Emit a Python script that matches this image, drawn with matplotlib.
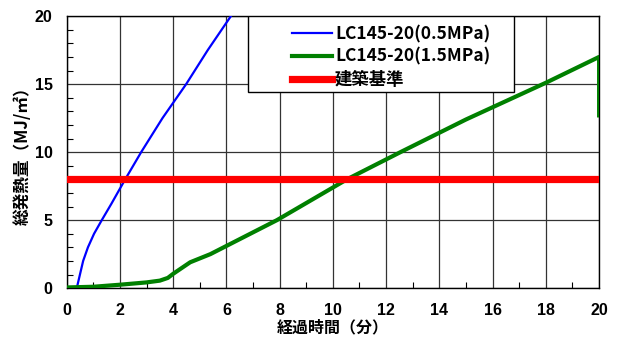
import matplotlib
matplotlib.use('Agg')
import matplotlib.pyplot as plt
from matplotlib.patches import Rectangle
from matplotlib.ticker import MultipleLocator

plt.rcParams['font.family'] = ['Noto Sans CJK JP', 'DejaVu Sans']

# 0.5MPa curve
blue_t = [0.0, 0.38, 0.5, 0.62, 0.8, 1.03, 1.32, 1.68, 2.2, 2.8, 3.6, 4.49, 5.3, 6.17, 6.3]
blue_q = [0.0, 0.0, 1.0, 2.0, 3.0, 4.0, 5.0, 6.2, 8.0, 10.0, 12.5, 15.0, 17.5, 20.0, 20.4]

# 1.5MPa curve
green_t = [0, 1, 2, 3, 3.5, 3.8, 4.0, 4.64, 5.4, 6, 7.9, 10.53, 12.54, 15, 18, 20, 20]
green_q = [0.05, 0.1, 0.25, 0.42, 0.55, 0.75, 1.05, 1.9, 2.5, 3.1, 5.0, 8.0, 10.0, 12.4, 15.1, 17.0, 12.7]

# building standard
std_t = [0, 20]
std_q = [8, 8]

labels = ['LC145-20(0.5MPa)', 'LC145-20(1.5MPa)', '建築基準']

fig = plt.figure(figsize=(6.17, 3.43), dpi=100)
ax = fig.add_axes([0.108, 0.160, 0.863, 0.793])

ax.plot(blue_t, blue_q, color='#0000ff', lw=1.6, label=labels[0], zorder=3,
        solid_joinstyle='round')
ax.plot(green_t, green_q, color='#008000', lw=3.0, label=labels[1], zorder=3,
        solid_joinstyle='round')
ax.plot(std_t, std_q, color='#ff0000', lw=5.2, label=labels[2], zorder=3)

ax.set_xlim(0, 20)
ax.set_ylim(0, 20)
ax.xaxis.set_major_locator(MultipleLocator(2))
ax.xaxis.set_minor_locator(MultipleLocator(1))
ax.yaxis.set_major_locator(MultipleLocator(5))
ax.yaxis.set_minor_locator(MultipleLocator(1))
ax.grid(True, which='major', color='#333333', lw=0.9)
ax.set_axisbelow(True)
ax.tick_params(which='both', direction='in')
ax.tick_params(which='major', length=0, labelsize=11.5)
ax.tick_params(which='minor', length=4, width=0.8)
ax.tick_params(axis='x', which='major', pad=11)
ax.tick_params(axis='y', which='major', pad=10)
for lab in ax.get_xticklabels() + ax.get_yticklabels():
    lab.set_fontfamily(['Liberation Sans', 'DejaVu Sans'])
    lab.set_fontweight('bold')
for s in ax.spines.values():
    s.set_linewidth(1.0)
    s.set_color('black')

ax.set_xlabel('経過時間（分）', fontsize=11.5, fontweight='bold', labelpad=1)
ax.set_ylabel('総発熱量（MJ/㎡）', fontsize=12, fontweight='bold', labelpad=2)

# legend box
ax.add_patch(Rectangle((0.341, 0.72), 0.499, 0.28, transform=ax.transAxes,
                       facecolor='white', edgecolor='black', lw=1.0, zorder=4))
leg = ax.legend(loc='upper left', bbox_to_anchor=(0.398, 1.015), frameon=False,
                prop={'size': 12.5, 'weight': 'bold'}, handlelength=2.3,
                handletextpad=0.2, labelspacing=0.28, borderpad=0.25)
leg.set_zorder(5)

fig.savefig('out.png', dpi=100)
